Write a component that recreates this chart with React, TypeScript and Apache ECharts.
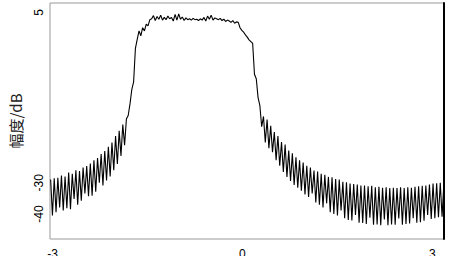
import React, { useEffect, useRef } from "react";
import * as echarts from "echarts";

// Sample grid of the response (x in the axis' units)
const X_START = -3.03;
const X_STEP = 0.0285;

// Amplitude values (dB), left to right
const leftLobes = [
  -32.3, -40.3, -32.0, -39.6, -31.9, -38.5, -31.4, -39.2, -31.6, -38.7,
  -30.7, -38.9, -31.0, -36.6, -30.2, -37.9, -30.4, -37.0, -29.6, -35.4,
  -29.3, -36.0, -28.7, -35.9, -28.0, -35.0, -27.5, -33.0, -26.6, -33.6,
  -25.9, -32.5, -25.0, -31.6, -24.0, -30.2, -22.6, -28.8, -21.4, -27.0,
  -20.0, -24.6, -18.8, -18.0,
];
const leftEdge = [-15.4, -12.2, -10.5, -3.0, -1.0, 0.9, -0.2, 1.6, 0.9, 2.4, 2.0, 3.4];
const plateau = [
  3.6, 4.3, 3.2, 4.1, 3.5, 4.4, 3.3, 3.9, 3.4, 4.2,
  3.6, 3.9, 3.1, 4.6, 3.3, 4.7, 3.5, 4.0, 3.2, 3.8,
  3.4, 3.6, 3.3, 3.7, 3.4, 3.5, 3.2, 3.6, 3.3, 3.9,
  3.1, 4.2, 3.5, 4.4, 3.3, 3.8, 3.6, 3.4, 3.7, 3.2,
  3.5, 3.0, 3.3, 3.1, 2.8, 3.2, 2.6, 2.9,
];
const rightEdge = [2.8, 1.6, 1.0, 0.6, 0.0, -0.5, -1.1, -1.5, -1.9, -8.8, -9.8, -14.0, -15.8];
const rightLobes = [
  -20.5, -18.2, -24.0, -18.9, -25.3, -20.3, -26.2, -21.7, -28.0, -22.6,
  -29.2, -23.9, -30.6, -24.5, -31.7, -25.8, -32.6, -26.4, -33.5, -27.3,
  -34.1, -28.0, -34.8, -28.5, -35.6, -29.2, -36.2, -29.6, -35.4, -30.3,
  -37.4, -30.5, -37.9, -31.0, -38.5, -31.2, -37.6, -31.7, -39.6, -31.8,
  -40.0, -32.2, -40.3, -32.3, -39.2, -32.8, -40.9, -32.9, -41.3, -33.2,
  -41.4, -33.3, -40.2, -33.4, -41.9, -33.6, -42.0, -33.6, -42.2, -33.8,
  -40.8, -33.7, -42.4, -34.0, -42.3, -33.9, -42.5, -34.1, -41.2, -34.0,
  -42.5, -34.2, -42.3, -34.1, -42.4, -34.2, -41.0, -34.0, -42.4, -34.2,
  -42.2, -34.0, -42.1, -34.1, -40.9, -33.9, -41.9, -33.8, -41.8, -33.7,
  -41.5, -33.6, -40.2, -33.4, -41.1, -33.2, -40.9, -33.1, -40.7, -33.0,
  -40.6, -33.1,
];

const xTickValues = [-3, 0, 3];
const xTickLabels = ["-3", "0", "3"];
const yTickValues = [5, -33, -40];
const yTickLabels = ["5", "-30", "-40"];

const X_MIN = -3.04;
const X_MAX = 3.185;
const Y_MIN = -45.56;
const Y_MAX = 7.12;

export default function App() {
  const ref = useRef<HTMLDivElement>(null);
  useEffect(() => {
    if (!ref.current) return;
    const chart = echarts.init(ref.current, null, { renderer: "svg" });
    const ys = [...leftLobes, ...leftEdge, ...plateau, ...rightEdge, ...rightLobes];
    const data = ys.map((y, i) => [X_START + i * X_STEP, y]);
    const lookup = (vals: number[], labels: string[]) => (v: number) => {
      const k = vals.findIndex((t) => Math.abs(t - v) < 1e-6);
      return k >= 0 ? labels[k] : "";
    };
    chart.setOption({
      animation: false,
      backgroundColor: "#fff",
      grid: {
        left: 50,
        top: 3,
        right: 6,
        bottom: 17,
        outerBoundsMode: "none",
        containLabel: false,
        show: true,
        borderColor: "#999",
        borderWidth: 1,
      },
      xAxis: {
        type: "value",
        min: X_MIN,
        max: X_MAX,
        axisLine: { show: false },
        axisTick: { show: false },
        splitLine: { show: false },
        axisLabel: {
          customValues: xTickValues,
          formatter: lookup(xTickValues, xTickLabels),
          margin: 9,
          fontSize: 12,
          color: "#000",
          fontFamily: "Liberation Sans, Arial, sans-serif",
        },
      },
      yAxis: [
        {
          type: "value",
          min: Y_MIN,
          max: Y_MAX,
          axisLine: { show: false },
          axisTick: { show: false },
          splitLine: { show: false },
          axisLabel: {
            customValues: yTickValues,
            formatter: lookup(yTickValues, yTickLabels),
            rotate: 90,
            margin: 5,
            fontSize: 12,
            color: "#000",
            fontFamily: "Liberation Sans, Arial, sans-serif",
          },
          name: "幅度/dB",
          nameLocation: "middle",
          nameRotate: 90,
          nameGap: 27,
          nameTextStyle: {
            fontSize: 15,
            color: "#222",
            fontFamily: "Noto Sans CJK SC, sans-serif",
          },
        },
        {
          type: "value",
          position: "right",
          min: Y_MIN,
          max: Y_MAX,
          axisLine: { show: true, lineStyle: { color: "#000", width: 2 } },
          axisTick: { show: false },
          axisLabel: { show: false },
          splitLine: { show: false },
        },
      ],
      series: [
        {
          type: "line",
          data,
          showSymbol: false,
          symbol: "none",
          lineStyle: { color: "#000", width: 1.1 },
          yAxisIndex: 0,
        },
      ],
    });
    return () => chart.dispose();
  }, []);
  return (
    <div
      ref={ref}
      style={{ position: "fixed", left: 0, top: 0, width: 450, height: 256, background: "#fff" }}
    />
  );
}
